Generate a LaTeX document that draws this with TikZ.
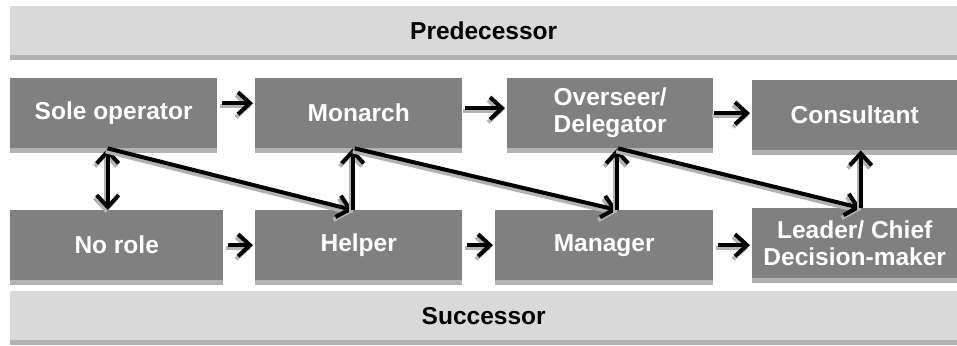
\documentclass[tikz,border=0pt]{standalone}
\usepackage{fontspec}
\setmainfont{Liberation Sans}
\usetikzlibrary{arrows.meta,shadows,positioning}
\definecolor{rolegray}{RGB}{128,128,128}
\definecolor{bandgray}{RGB}{217,217,217}
\definecolor{shadowgray}{RGB}{178,178,178}

\begin{document}
\begin{tikzpicture}[
        x=1pt, y=-1pt,
        band/.style={
            rectangle,
            anchor=north west,
            minimum width=947pt,
            minimum height=49pt,
            inner sep=0pt,
            fill=bandgray,
            font=\fontsize{24.5}{27}\selectfont\bfseries,
            drop shadow={shadow xshift=0pt, shadow yshift=-5pt, fill=shadowgray, opacity=1}
        },
        role/.style={
            rectangle,
            anchor=north west,
            minimum height=70pt,
            inner sep=0pt,
            fill=rolegray,
            text=white,
            align=center,
            font=\fontsize{24.5}{27}\selectfont\bfseries,
            drop shadow={shadow xshift=0pt, shadow yshift=-5pt, fill=shadowgray, opacity=1}
        },
        arrow/.style={
            line width=4pt,
            -{Straight Barb[length=12pt,width=22pt]},
            preaction={draw=shadowgray, line width=4pt,
                transform canvas={shift={(-2pt,-3pt)}}}
        },
        twoway/.style={
            arrow,
            {Straight Barb[length=12pt,width=22pt]}-{Straight Barb[length=12pt,width=22pt]}
        }
    ]

    \useasboundingbox (0,0) rectangle (957,345);

    % Bands
    \node[band] (pred) at (10,6) {Predecessor};
    \node[band] (succ) at (10,291) {Successor};

    % Upper row
    \node[role, minimum width=207pt] (sole) at (10,78) {Sole operator};
    \node[role, minimum width=207pt] (monarch) at (255,78) {Monarch};
    \node[role, minimum width=206pt] (overseer) at (507,78) {Overseer/\\Delegator};
    \node[role, minimum width=205pt] (consultant) at (752,80) {Consultant};

    % Lower row
    \node[role, minimum width=213pt] (norole) at (10,210) {No role};
    \node[role, minimum width=207pt] (helper) at (255,210) {Helper};
    \node[role, minimum width=218pt] (manager) at (495,210) {Manager};
    \node[role, minimum width=205pt] (leader) at (752,208) {Leader/ Chief\\Decision-maker};

    % Along the rows
    \draw[arrow, shorten <=5pt, shorten >=2pt] ([yshift=10pt]sole.east) -- ([yshift=10pt]sole.east -| monarch.west);
    \draw[arrow, shorten <=3pt, shorten >=2pt] ([yshift=5pt]monarch.east) -- ([yshift=5pt]monarch.east -| overseer.west);
    \draw[arrow, shorten <=1pt, shorten >=2pt] (overseer.east) -- (overseer.east -| consultant.west);
    \draw[arrow, shorten <=5pt, shorten >=2pt] (norole.east) -- (norole.east -| helper.west);
    \draw[arrow, shorten <=5pt, shorten >=2pt] (helper.east) -- (helper.east -| manager.west);
    \draw[arrow, shorten <=5pt, shorten >=2pt] (manager.east) -- (manager.east -| leader.west);

    % Between the rows
    \draw[twoway] ([xshift=-6pt]sole.south) -- ([xshift=-6pt]sole.south |- norole.north);
    \draw[arrow] ([xshift=-6pt]sole.south) -- ([xshift=-6pt]helper.north);
    \draw[arrow] ([xshift=-6pt]helper.north) -- ([xshift=-6pt]helper.north |- monarch.south);
    \draw[arrow] ([xshift=-4pt]monarch.south) -- ([xshift=13pt]manager.north);
    \draw[arrow] ([xshift=13pt]manager.north) -- ([xshift=13pt]manager.north |- overseer.south);
    \draw[arrow] ([xshift=8pt]overseer.south) -- ([xshift=6pt]leader.north);
    \draw[arrow] ([xshift=6pt]leader.north) -- ([xshift=6pt]leader.north |- consultant.south);

\end{tikzpicture}
\end{document}
